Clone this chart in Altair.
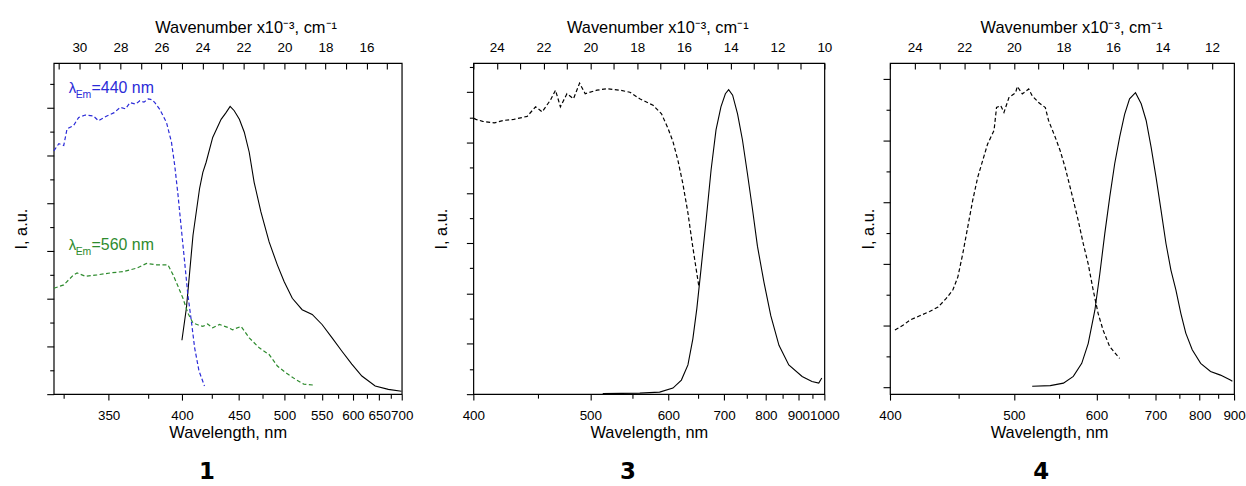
import altair as alt
import pandas as pd

# ---------------- data (x in wavenumber, 10^3 cm^-1; y in arbitrary units) ----------------
# Panel 1
p1_exc440_k = [31.24, 31.0, 30.76, 30.60, 30.28, 30.03, 29.71, 29.31, 29.07, 28.66, 28.30, 28.01, 27.75,
               27.53, 27.25, 27.05, 26.85, 26.64, 26.45, 26.32, 26.08, 25.75, 25.51, 25.35, 25.19, 25.03,
               24.87, 24.71, 24.54, 24.38, 24.17, 23.90]
p1_exc440_i = [5.10, 5.25, 5.21, 5.56, 5.63, 5.80, 5.85, 5.83, 5.73, 5.83, 5.90, 6.01, 5.98,
               6.11, 6.08, 6.15, 6.12, 6.19, 6.17, 6.11, 5.97, 5.69, 5.28, 4.79, 4.17, 3.47,
               2.78, 2.08, 1.53, 0.97, 0.49, 0.17]
p1_exc560_k = [31.24, 30.76, 30.28, 30.11, 29.71, 29.14, 28.50, 27.85, 27.21, 26.72, 26.24, 25.68, 25.43,
               25.19, 24.95, 24.71, 24.46, 24.20, 23.98, 23.75, 23.50, 23.17, 22.77, 22.53, 22.12, 21.72,
               21.23, 20.75, 20.35, 19.94, 19.46, 19.06, 18.57]
p1_exc560_i = [2.22, 2.29, 2.50, 2.54, 2.47, 2.50, 2.54, 2.57, 2.64, 2.74, 2.71, 2.71, 2.50,
               2.26, 2.01, 1.70, 1.49, 1.45, 1.42, 1.47, 1.39, 1.46, 1.40, 1.35, 1.42, 1.18,
               0.97, 0.83, 0.59, 0.45, 0.31, 0.21, 0.19]
p1_em_k = [25.00, 24.78, 24.46, 24.14, 23.98, 23.82, 23.50, 23.09, 22.85, 22.65, 22.45, 22.20, 21.96,
           21.72, 21.48, 21.15, 20.75, 20.35, 20.02, 19.62, 19.14, 18.65, 18.17, 17.68, 17.20, 16.72,
           16.23, 15.58, 14.94, 14.30]
p1_em_i = [1.13, 1.81, 3.33, 4.31, 4.65, 4.86, 5.38, 5.76, 5.90, 6.03, 5.94, 5.76, 5.49,
           5.07, 4.44, 3.82, 3.19, 2.71, 2.36, 2.01, 1.77, 1.67, 1.46, 1.18, 0.90, 0.63,
           0.38, 0.17, 0.10, 0.06]

# Panel 3
p3_exc_k = [24.98, 24.89, 24.60, 24.11, 23.69, 23.27, 22.70, 22.34, 22.06, 21.71, 21.49, 21.28, 21.00,
            20.72, 20.46, 20.22, 19.72, 19.30, 18.73, 18.31, 17.89, 17.32, 16.96, 16.68, 16.47, 16.26,
            16.05, 15.83, 15.65, 15.48, 15.37]
p3_exc_i = [5.48, 5.46, 5.42, 5.39, 5.44, 5.46, 5.52, 5.71, 5.61, 5.84, 6.04, 5.71, 5.97,
            5.87, 6.18, 5.97, 6.04, 6.07, 6.04, 6.00, 5.87, 5.74, 5.57, 5.28, 5.02, 4.65,
            4.19, 3.60, 3.01, 2.49, 2.16]
p3_em_k = [19.47, 17.89, 17.04, 16.47, 16.11, 15.83, 15.62, 15.45, 15.27, 15.05, 14.84, 14.63, 14.42,
           14.23, 14.09, 13.92, 13.71, 13.50, 13.29, 13.07, 12.86, 12.58, 12.29, 11.94, 11.52, 10.95,
           10.53, 10.24, 10.11]
p3_em_i = [0.01, 0.02, 0.04, 0.12, 0.28, 0.58, 1.10, 1.70, 2.49, 3.47, 4.46, 5.25, 5.71,
           5.97, 6.05, 5.94, 5.57, 5.05, 4.39, 3.67, 2.94, 2.22, 1.56, 0.97, 0.58, 0.35,
           0.25, 0.22, 0.32]

# Panel 4
p4_exc_k = [24.80, 24.46, 24.20, 23.80, 23.40, 23.06, 22.73, 22.46, 22.26, 22.06, 21.86, 21.66, 21.46,
            21.26, 21.06, 20.80, 20.70, 20.53, 20.40, 20.20, 19.93, 19.86, 19.66, 19.40, 19.26, 19.00,
            18.73, 18.60, 18.33, 18.13, 17.93, 17.66, 17.40, 17.20, 17.00, 16.80, 16.60, 16.40, 16.13,
            15.86, 15.73]
p4_exc_i = [0.93, 1.01, 1.09, 1.16, 1.23, 1.30, 1.44, 1.58, 1.79, 2.17, 2.60, 3.03, 3.40,
            3.67, 3.94, 4.16, 4.53, 4.56, 4.45, 4.69, 4.77, 4.87, 4.75, 4.83, 4.72, 4.61,
            4.53, 4.32, 4.05, 3.83, 3.56, 3.13, 2.70, 2.33, 2.00, 1.58, 1.20, 0.93, 0.66,
            0.53, 0.47]
p4_em_k = [19.26, 18.53, 18.00, 17.60, 17.26, 17.00, 16.73, 16.53, 16.33, 16.13, 15.93, 15.73, 15.53,
           15.33, 15.09, 14.86, 14.66, 14.46, 14.26, 14.06, 13.86, 13.66, 13.46, 13.26, 13.06, 12.80,
           12.46, 12.06, 11.66, 11.26, 11.18]
p4_em_i = [0.02, 0.03, 0.07, 0.18, 0.39, 0.71, 1.25, 1.84, 2.49, 3.08, 3.62, 4.05, 4.42,
           4.67, 4.77, 4.59, 4.32, 3.89, 3.40, 2.87, 2.33, 1.90, 1.58, 1.20, 0.88, 0.61,
           0.39, 0.26, 0.20, 0.12, 0.10]

# Axis ticks
p1_nm_ticks = list(range(325, 701, 25))
p3_nm_ticks = list(range(400, 1001, 50))
p4_nm_ticks = list(range(400, 901, 50))
p1_kk_ticks = list(range(15, 32))
p3_kk_ticks = list(range(10, 26))
p4_kk_ticks = list(range(12, 26))

# Panel 1 annotations
p1_label_text = ["440", "560"]
p1_label_k = [30.52, 30.52]
p1_label_i = [6.31, 3.02]
p1_label_color = ["#2b2bd8", "#2e8b2e"]

FONT = "Liberation Sans"
TITLE_SIZE = 16.5
LABEL_SIZE = 13.5


def make_panel(solid_df, dashed_df, dash_color, xdom, ydom, ymax_ticks, nm_ticks, nm_step,
               kk_ticks, width, height, ytitle_pad, top_title_x, bottom_title_x, caption,
               extra_layers=()):
    xscale = alt.Scale(domain=xdom, reverse=True, nice=False, zero=False)
    yscale = alt.Scale(domain=ydom, nice=False, zero=False)
    nm_expr = "round(10000/datum.value)"
    bottom_axis = alt.Axis(
        orient="bottom", values=[1e4 / v for v in nm_ticks],
        labelExpr=f"{nm_expr} % {nm_step} === 0 ? format({nm_expr}, 'd') : ''",
        tickSize={"condition": {"test": f"{nm_expr} % {nm_step} === 0", "value": 6}, "value": 4},
        domain=False, grid=False, labelOverlap=False, labelFlush=False, labelBound=False,
        labelFont=FONT, labelFontSize=LABEL_SIZE, labelColor="black", labelPadding=8,
        tickColor="black", tickWidth=1.1,
        title="Wavelength, nm", titleFont=FONT, titleFontSize=TITLE_SIZE, titleFontWeight="normal",
        titleColor="black", titlePadding=3,
        **({"titleX": bottom_title_x, "titleAlign": "center"} if bottom_title_x is not None else {}),
    )
    top_axis = alt.Axis(
        orient="top", values=kk_ticks, offset=-6, tickSize=6,
        labelExpr="datum.value % 2 === 0 ? datum.label : ''",
        domain=False, grid=False, labelOverlap=False, labelFlush=False, labelBound=False,
        labelFont=FONT, labelFontSize=LABEL_SIZE, labelColor="black", labelPadding=9,
        tickColor="black", tickWidth=1.1,
        title="Wavenumber x10⁻³, cm⁻¹", titleFont=FONT, titleFontSize=TITLE_SIZE,
        titleFontWeight="normal", titleColor="black", titlePadding=5,
        titleX=top_title_x, titleAlign="center",
    )
    yvals = [v / 2 for v in range(0, int(ymax_ticks * 2) + 1)]
    y_axis = alt.Axis(
        orient="left", values=yvals, labels=False, domain=False, grid=False,
        tickSize={"condition": {"test": "datum.value % 1 === 0", "value": 7}, "value": 4},
        tickColor="black", tickWidth=1.1,
        title="I, a.u.", titleFont=FONT, titleFontSize=TITLE_SIZE, titleFontWeight="normal",
        titleColor="black", titlePadding=ytitle_pad,
    )
    solid = alt.Chart(solid_df).mark_line(color="black", strokeWidth=1.1).encode(
        x=alt.X("k:Q", scale=xscale, axis=bottom_axis),
        y=alt.Y("I:Q", scale=yscale, axis=y_axis),
    )
    if isinstance(dash_color, dict):
        color_enc = alt.Color("s:N", scale=alt.Scale(domain=list(dash_color.keys()),
                                                     range=list(dash_color.values())), legend=None)
    else:
        color_enc = alt.value(dash_color)
    dashed = alt.Chart(dashed_df).mark_line(strokeWidth=1.2, strokeDash=[4, 2.5]).encode(
        x=alt.X("k:Q", scale=xscale, axis=top_axis),
        y=alt.Y("I:Q", scale=yscale, axis=None),
        color=color_enc,
        detail="s:N",
    )
    layers = [solid, dashed] + [l.encode(x=alt.X("k:Q", scale=xscale, axis=None),
                                         y=alt.Y("I:Q", scale=yscale, axis=None))
                                for l in extra_layers]
    return alt.layer(*layers).resolve_axis(x="independent", y="independent").properties(
        width=width, height=height,
        title=alt.TitleParams(caption, orient="bottom", anchor="middle", frame="group", dx=-21,
                              offset=20, fontSize=23, fontWeight="bold", font="DejaVu Sans",
                              color="black"),
    )


# ---- panel 1 ----
p1_solid = pd.DataFrame({"k": p1_em_k, "I": p1_em_i})
p1_dashed = pd.concat([
    pd.DataFrame({"k": p1_exc440_k, "I": p1_exc440_i, "s": "440"}),
    pd.DataFrame({"k": p1_exc560_k, "I": p1_exc560_i, "s": "560"}),
])
lab = pd.DataFrame({"k": p1_label_k, "I": p1_label_i, "t": p1_label_text, "c": p1_label_color})
lab["eq"] = "=" + lab["t"] + " nm"
lab["lam"] = "λ"
lab["sub"] = "Em"
txt_lam = alt.Chart(lab).mark_text(align="left", baseline="alphabetic", font=FONT, fontSize=15).encode(
    text="lam:N", color=alt.Color("c:N", scale=None))
txt_sub = alt.Chart(lab).mark_text(align="left", baseline="alphabetic", font=FONT, fontSize=10.5,
                                   dx=7, dy=5).encode(text="sub:N", color=alt.Color("c:N", scale=None))
txt_eq = alt.Chart(lab).mark_text(align="left", baseline="alphabetic", font=FONT, fontSize=16,
                                  dx=23).encode(text="eq:N", color=alt.Color("c:N", scale=None))

panel1 = make_panel(p1_solid, p1_dashed, {"440": "#2b2bd8", "560": "#2e8b2e"},
                    [1e4 / 700, 1e4 / 320], [0, 6.94], 6.5, p1_nm_ticks, 50, p1_kk_ticks,
                    350, 333, 17, 193, None, "1", extra_layers=(txt_lam, txt_sub, txt_eq))

# ---- panel 3 ----
panel3 = make_panel(pd.DataFrame({"k": p3_em_k, "I": p3_em_i}),
                    pd.DataFrame({"k": p3_exc_k, "I": p3_exc_i, "s": "exc"}), "black",
                    [10, 25], [0, 6.58], 6.5, p3_nm_ticks, 100, p3_kk_ticks,
                    353, 333, 16, 185, None, "3")

# ---- panel 4 ----
panel4 = make_panel(pd.DataFrame({"k": p4_em_k, "I": p4_em_i}),
                    pd.DataFrame({"k": p4_exc_k, "I": p4_exc_i, "s": "exc"}), "black",
                    [1e4 / 900, 25], [-0.108, 5.25], 5, p4_nm_ticks, 100, p4_kk_ticks,
                    346, 333, 6, 182, 160, "4")

chart = alt.hconcat(panel1, panel3, panel4, spacing=19).resolve_scale(color="independent").properties(
    padding={"left": 12, "top": 17, "right": 0, "bottom": 0}
).configure(background="white").configure_view(stroke="black", strokeWidth=1.2)

chart.save("out.html", embed_options={"renderer": "svg", "actions": False})
